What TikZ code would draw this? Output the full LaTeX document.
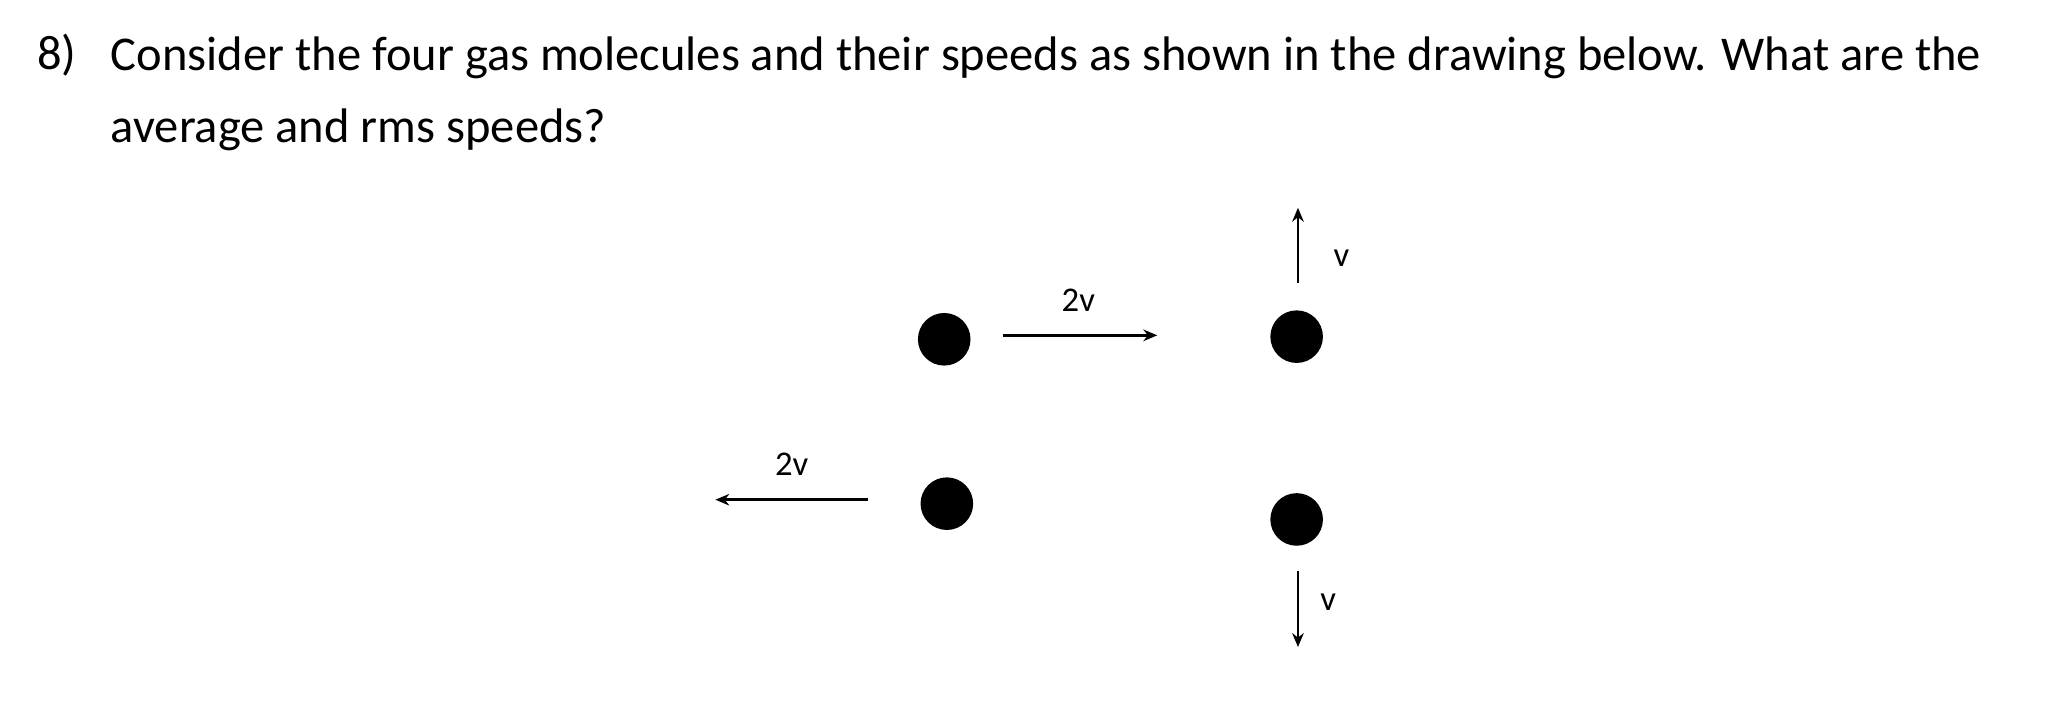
\documentclass[tikz,border=0pt]{standalone}
\usepackage{fontspec}
\setmainfont{Carlito}
\usetikzlibrary{positioning}
\usetikzlibrary{arrows.meta}

\begin{document}
\begin{tikzpicture}[ x = 0.02cm, y = -0.02cm
                     , >={Stealth[width=0.5em, length=0.6em]}
                     , molecule/.style = { circle
                                         , fill = black
                                         , minimum size = 0.8cm
                                         , inner sep = 0pt }
                     , speed/.style = { font = \fontsize{15}{18}\selectfont }
                     , velarrow/.style = { ->, line width = 1.2pt }
                     ]
  \useasboundingbox (0,0) rectangle (1568,538);

  %%
  %% Question
  %%
  \node (num) [anchor = west, font = \fontsize{21}{25}\selectfont] at (22,42) {8)};
  \node (qtext) [anchor = north west, align = left, inner sep = 0pt,
                 font = \fontsize{21}{31}\selectfont] at (84,28)
    {Consider the four gas molecules and their speeds as shown in the drawing below. What are the\\
     average and rms speeds?};

  %%
  %% Molecules
  %%
  \node (mtl) [molecule] at (718,258) {};
  \node (mtr) [molecule] at (986,256) {};
  \node (mbl) [molecule] at (720,383) {};
  \node (mbr) [molecule] at (986,395) {};

  %%
  %% Velocities
  %%
  \coordinate (rs) at (763,255);  \coordinate (re) at (880,255);
  \coordinate (ls) at (660,380);  \coordinate (le) at (544,380);
  \coordinate (us) at (987,215);  \coordinate (ue) at (987,158);
  \coordinate (ds) at (987,434);  \coordinate (de) at (987,492);

  \draw[velarrow] (rs) -- (re);
  \draw[velarrow] (ls) -- (le);
  \draw[velarrow] (us) -- (ue);
  \draw[velarrow] (ds) -- (de);

  \node (lr) [speed] at (820,228) {2v};
  \node (ll) [speed] at (602,353) {2v};
  \node (lu) [speed] at (1020,196) {v};
  \node (ld) [speed] at (1010,458) {v};
\end{tikzpicture}
\end{document}
